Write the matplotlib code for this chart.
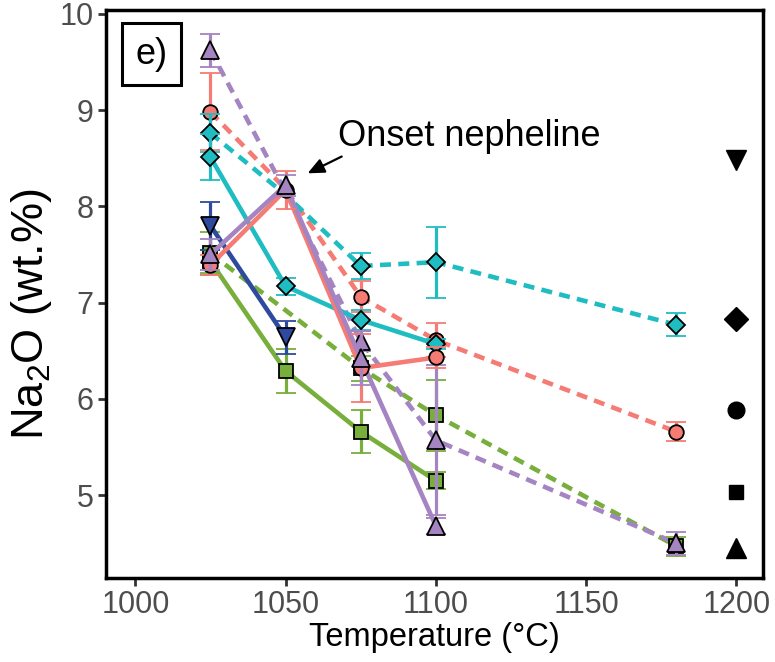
import numpy as np
import matplotlib
matplotlib.use('Agg')
import matplotlib.pyplot as plt

# Fonte parecida com Arial
plt.rcParams['font.family'] = ['Liberation Sans', 'DejaVu Sans']
plt.rcParams['mathtext.default'] = 'regular'

# Dados (Na2O wt.% vs temperatura)
T_solid = [1025, 1050, 1075, 1100]
T_dash = [1025, 1050, 1075, 1100, 1180]

blue_T = [1025, 1050]
blue_y = [7.80, 6.64]
blue_err = [0.25, 0.17]

cyan_y = [8.51, 7.17, 6.82, 6.57]
cyan_err = [0.24, 0.09, 0.10, 0.05]
cyan_dash_y = [8.76, 8.12, 7.38, 7.42, 6.77]
cyan_dash_err = [0.20, 0.0, 0.14, 0.37, 0.12]

red_y = [7.39, 8.17, 6.32, 6.43]
red_err = [0.10, 0.20, 0.35, 0.11]
red_dash_y = [8.98, 8.18, 7.06, 6.61, 5.66]
red_dash_err = [0.40, 0.0, 0.16, 0.18, 0.10]

green_y = [7.43, 6.29, 5.66, 5.15]
green_err = [0.12, 0.23, 0.22, 0.09]
green_dash_y = [7.51, 6.92, 6.32, 5.83, 4.47]
green_dash_err = [0.22, 0.0, 0.13, 0.37, 0.10]

purple_y = [7.50, 8.22, 6.42, 4.68]
purple_err = [0.16, 0.11, 0.28, 0.08]
purple_dash_y = [9.62, 8.15, 6.60, 5.57, 4.50]
purple_dash_err = [0.17, 0.0, 0.10, 0.78, 0.12]

# marcadores pretos da "legenda" a 1200 C
leg_marker = ['v', 'D', 'o', 's', '^']
leg_y = [8.48, 6.83, 5.88, 5.03, 4.45]
leg_size = [15, 12, 12, 10, 15]

c_blue = '#2D4A9E'
c_cyan = '#1FBDC1'
c_red = '#F47C74'
c_green = '#78AE3C'
c_purple = '#A584C2'

fig = plt.figure(figsize=(7.75, 6.62), dpi=100)
ax = fig.add_axes([0.137, 0.127, 0.848, 0.858])

lw = 3.3
dash = (2.4, 1.6)

def serie(x, y, err, cor, mk, ms, ls, z, pular=None):
    x = np.array(x, float)
    y = np.array(y, float)
    err = np.array(err, float)
    if ls == '--':
        ax.plot(x, y, color=cor, lw=lw, dashes=dash, zorder=z)
    else:
        ax.plot(x, y, color=cor, lw=lw, zorder=z)
    idx = [i for i in range(len(x)) if i != pular]
    ax.errorbar(x[idx], y[idx], yerr=err[idx], fmt=mk, color=cor, mfc=cor, mec='black',
                mew=1.3, ms=ms, ecolor=cor, elinewidth=2.3, capsize=7.5, capthick=2.3,
                zorder=z + 0.5)

serie(T_solid, green_y, green_err, c_green, 's', 9.5, '-', 3)
serie(T_dash, green_dash_y, green_dash_err, c_green, 's', 9.5, '--', 3, pular=1)
serie(T_dash, red_dash_y, red_dash_err, c_red, 'o', 10.5, '--', 3.2, pular=1)
serie(T_dash, purple_dash_y, purple_dash_err, c_purple, '^', 13, '--', 3.4, pular=1)
serie(T_dash, cyan_dash_y, cyan_dash_err, c_cyan, 'D', 9.5, '--', 3.6, pular=1)
serie(blue_T, blue_y, blue_err, c_blue, 'v', 13, '-', 4)
serie(T_solid, cyan_y, cyan_err, c_cyan, 'D', 9.5, '-', 4.2)
serie(T_solid, red_y, red_err, c_red, 'o', 10.5, '-', 4.4)
serie(T_solid, purple_y, purple_err, c_purple, '^', 13, '-', 4.6)

for mk, yy, s in zip(leg_marker, leg_y, leg_size):
    ax.plot(1200, yy, marker=mk, color='black', ms=s, ls='none', zorder=6)

# Anotacao
ax.text(1111, 8.73, 'Onset nepheline', fontsize=26, ha='center', va='center')
ax.annotate('', xy=(1056.5, 8.33), xytext=(1069.5, 8.53),
            arrowprops=dict(arrowstyle='-|>,head_length=1.0,head_width=0.45',
                            color='black', lw=1.6))

# Rotulo do painel
ax.text(0.069, 0.922, 'e)', transform=ax.transAxes, fontsize=26, ha='center', va='center',
        bbox=dict(boxstyle='square,pad=0.38', fc='white', ec='black', lw=2.2))

ax.set_xlim(990.3, 1209)
ax.set_ylim(4.14, 10.04)
ax.set_xticks([1000, 1050, 1100, 1150, 1200])
ax.set_yticks([5, 6, 7, 8, 9, 10])
ax.tick_params(axis='both', direction='out', length=6, width=2, labelsize=22,
               labelcolor='#4D4D4D', color='#333333', pad=3)
for s in ax.spines.values():
    s.set_linewidth(2.5)
ax.set_xlabel('Temperature (°C)', fontsize=23.5, labelpad=1)
ax.set_ylabel('Na$_2$O (wt.%)', fontsize=32.5)
ax.yaxis.set_label_coords(-0.08, 0.465)

fig.savefig('out.png', dpi=100)
